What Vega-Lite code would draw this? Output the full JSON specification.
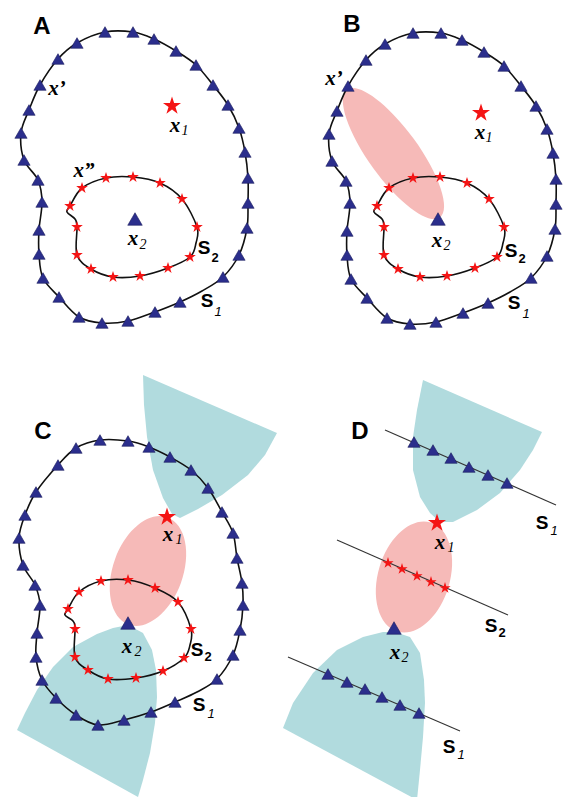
{
  "$schema": "https://vega.github.io/schema/vega-lite/v6.json",
  "width": 565,
  "height": 797,
  "padding": 0,
  "autosize": {"type": "fit", "contains": "padding"},
  "background": "white",
  "config": {"view": {"stroke": null}},
  "datasets": {
    "s1": [
      {"p":"A","o":1,"x":105,"y":32,"m":1},{"p":"A","o":2,"x":133,"y":32,"m":1},{"p":"A","o":3,"x":154,"y":39,"m":1},{"p":"A","o":4,"x":176,"y":51,"m":1},{"p":"A","o":5,"x":196,"y":65,"m":1},{"p":"A","o":6,"x":213,"y":85,"m":1},{"p":"A","o":7,"x":228,"y":105,"m":1},{"p":"A","o":8,"x":239,"y":128,"m":1},{"p":"A","o":9,"x":245,"y":152,"m":1},{"p":"A","o":10,"x":248,"y":178,"m":1},{"p":"A","o":11,"x":248,"y":203,"m":1},{"p":"A","o":12,"x":247,"y":228,"m":1},{"p":"A","o":13,"x":239,"y":255,"m":1},{"p":"A","o":14,"x":223,"y":277,"m":1},{"p":"A","o":15,"x":202,"y":291,"m":0},{"p":"A","o":16,"x":180,"y":302,"m":1},{"p":"A","o":17,"x":155,"y":312,"m":1},{"p":"A","o":18,"x":128,"y":321,"m":1},{"p":"A","o":19,"x":102,"y":323,"m":1},{"p":"A","o":20,"x":79,"y":317,"m":1},{"p":"A","o":21,"x":59,"y":297,"m":1},{"p":"A","o":22,"x":43,"y":278,"m":1},{"p":"A","o":23,"x":39,"y":254,"m":1},{"p":"A","o":24,"x":39,"y":230,"m":1},{"p":"A","o":25,"x":42,"y":202,"m":1},{"p":"A","o":26,"x":38,"y":180,"m":1},{"p":"A","o":27,"x":24,"y":160,"m":1},{"p":"A","o":29,"x":21,"y":133,"m":1},{"p":"A","o":30,"x":29,"y":110,"m":1},{"p":"A","o":31,"x":40,"y":85,"m":1},{"p":"A","o":32,"x":58,"y":59,"m":1},{"p":"A","o":33,"x":77,"y":43,"m":1},
      {"p":"B","o":1,"x":413,"y":33,"m":1},{"p":"B","o":2,"x":441,"y":33,"m":1},{"p":"B","o":3,"x":462,"y":40,"m":1},{"p":"B","o":4,"x":484,"y":52,"m":1},{"p":"B","o":5,"x":504,"y":66,"m":1},{"p":"B","o":6,"x":521,"y":86,"m":1},{"p":"B","o":7,"x":536,"y":106,"m":1},{"p":"B","o":8,"x":547,"y":129,"m":1},{"p":"B","o":9,"x":553,"y":153,"m":1},{"p":"B","o":10,"x":556,"y":179,"m":1},{"p":"B","o":11,"x":556,"y":204,"m":1},{"p":"B","o":12,"x":555,"y":229,"m":1},{"p":"B","o":13,"x":547,"y":256,"m":1},{"p":"B","o":14,"x":531,"y":278,"m":1},{"p":"B","o":15,"x":510,"y":292,"m":0},{"p":"B","o":16,"x":488,"y":303,"m":1},{"p":"B","o":17,"x":463,"y":313,"m":1},{"p":"B","o":18,"x":436,"y":322,"m":1},{"p":"B","o":19,"x":410,"y":324,"m":1},{"p":"B","o":20,"x":387,"y":318,"m":1},{"p":"B","o":21,"x":367,"y":298,"m":1},{"p":"B","o":22,"x":351,"y":279,"m":1},{"p":"B","o":23,"x":347,"y":255,"m":1},{"p":"B","o":24,"x":347,"y":231,"m":1},{"p":"B","o":25,"x":350,"y":203,"m":1},{"p":"B","o":26,"x":346,"y":181,"m":1},{"p":"B","o":27,"x":332,"y":161,"m":1},{"p":"B","o":29,"x":329,"y":134,"m":1},{"p":"B","o":30,"x":337,"y":111,"m":1},{"p":"B","o":31,"x":348,"y":86,"m":1},{"p":"B","o":32,"x":366,"y":60,"m":1},{"p":"B","o":33,"x":385,"y":44,"m":1},
      {"p":"C","o":1,"x":100,"y":440,"m":1},{"p":"C","o":2,"x":128,"y":441,"m":1},{"p":"C","o":3,"x":149,"y":447,"m":1},{"p":"C","o":4,"x":170,"y":457,"m":1},{"p":"C","o":5,"x":191,"y":470,"m":1},{"p":"C","o":6,"x":208,"y":488,"m":1},{"p":"C","o":7,"x":222,"y":512,"m":1},{"p":"C","o":8,"x":233,"y":533,"m":1},{"p":"C","o":9,"x":237,"y":558,"m":1},{"p":"C","o":10,"x":242,"y":583,"m":1},{"p":"C","o":11,"x":243,"y":605,"m":1},{"p":"C","o":12,"x":240,"y":630,"m":1},{"p":"C","o":13,"x":233,"y":655,"m":1},{"p":"C","o":14,"x":217,"y":679,"m":1},{"p":"C","o":15,"x":197,"y":692,"m":0},{"p":"C","o":16,"x":175,"y":702,"m":1},{"p":"C","o":17,"x":151,"y":712,"m":1},{"p":"C","o":18,"x":124,"y":720,"m":1},{"p":"C","o":19,"x":98,"y":725,"m":1},{"p":"C","o":20,"x":76,"y":715,"m":1},{"p":"C","o":21,"x":56,"y":698,"m":1},{"p":"C","o":22,"x":42,"y":680,"m":1},{"p":"C","o":23,"x":36,"y":657,"m":1},{"p":"C","o":24,"x":37,"y":633,"m":1},{"p":"C","o":25,"x":40,"y":605,"m":1},{"p":"C","o":26,"x":35,"y":585,"m":1},{"p":"C","o":27,"x":23,"y":565,"m":1},{"p":"C","o":29,"x":19,"y":538,"m":1},{"p":"C","o":30,"x":25,"y":515,"m":1},{"p":"C","o":31,"x":36,"y":492,"m":1},{"p":"C","o":32,"x":58,"y":465,"m":1},{"p":"C","o":33,"x":76,"y":448,"m":1}
    ],
    "s2": [
      {"p":"A","o":1,"x":82,"y":188,"m":1},{"p":"A","o":2,"x":106,"y":178,"m":1},{"p":"A","o":3,"x":133,"y":177,"m":1},{"p":"A","o":4,"x":160,"y":183,"m":1},{"p":"A","o":5,"x":182,"y":199,"m":1},{"p":"A","o":6,"x":197,"y":227,"m":1},{"p":"A","o":7,"x":196,"y":243,"m":0},{"p":"A","o":8,"x":190,"y":257,"m":1},{"p":"A","o":9,"x":168,"y":268,"m":1},{"p":"A","o":10,"x":140,"y":276,"m":1},{"p":"A","o":11,"x":113,"y":277,"m":1},{"p":"A","o":12,"x":91,"y":269,"m":1},{"p":"A","o":13,"x":77,"y":255,"m":1},{"p":"A","o":14,"x":77,"y":227,"m":1},{"p":"A","o":15,"x":75,"y":219,"m":0},{"p":"A","o":16,"x":67,"y":212,"m":0},{"p":"A","o":17,"x":70,"y":206,"m":1},
      {"p":"B","o":1,"x":389,"y":188,"m":1},{"p":"B","o":2,"x":413,"y":178,"m":1},{"p":"B","o":3,"x":440,"y":177,"m":1},{"p":"B","o":4,"x":467,"y":183,"m":1},{"p":"B","o":5,"x":489,"y":199,"m":1},{"p":"B","o":6,"x":504,"y":227,"m":1},{"p":"B","o":7,"x":503,"y":243,"m":0},{"p":"B","o":8,"x":497,"y":257,"m":1},{"p":"B","o":9,"x":475,"y":268,"m":1},{"p":"B","o":10,"x":447,"y":276,"m":1},{"p":"B","o":11,"x":420,"y":277,"m":1},{"p":"B","o":12,"x":398,"y":269,"m":1},{"p":"B","o":13,"x":384,"y":255,"m":1},{"p":"B","o":14,"x":384,"y":227,"m":1},{"p":"B","o":15,"x":382,"y":219,"m":0},{"p":"B","o":16,"x":374,"y":212,"m":0},{"p":"B","o":17,"x":377,"y":206,"m":1},
      {"p":"C","o":1,"x":79,"y":592,"m":1},{"p":"C","o":2,"x":101,"y":581,"m":1},{"p":"C","o":3,"x":128,"y":580,"m":1},{"p":"C","o":4,"x":155,"y":588,"m":1},{"p":"C","o":5,"x":178,"y":602,"m":1},{"p":"C","o":6,"x":191,"y":629,"m":1},{"p":"C","o":7,"x":190,"y":645,"m":0},{"p":"C","o":8,"x":184,"y":658,"m":1},{"p":"C","o":9,"x":163,"y":671,"m":1},{"p":"C","o":10,"x":136,"y":678,"m":1},{"p":"C","o":11,"x":108,"y":679,"m":1},{"p":"C","o":12,"x":88,"y":670,"m":1},{"p":"C","o":13,"x":75,"y":657,"m":1},{"p":"C","o":14,"x":75,"y":629,"m":1},{"p":"C","o":15,"x":73,"y":621,"m":0},{"p":"C","o":16,"x":65,"y":615,"m":0},{"p":"C","o":17,"x":68,"y":609,"m":1}
    ],
    "dl": [
      {"id":"top","x":385,"y":430,"x2":556,"y2":505},
      {"id":"mid","x":337,"y":540,"x2":508,"y2":615},
      {"id":"bot","x":288,"y":657,"x2":460,"y2":731}
    ],
    "pts": [
      {"k":"tri","x":414,"y":442},{"k":"tri","x":433,"y":450},{"k":"tri","x":451,"y":458},{"k":"tri","x":469,"y":467},{"k":"tri","x":488,"y":475},{"k":"tri","x":507,"y":483},
      {"k":"tri","x":328,"y":674},{"k":"tri","x":347,"y":682},{"k":"tri","x":365,"y":689},{"k":"tri","x":382,"y":697},{"k":"tri","x":400,"y":705},{"k":"tri","x":419,"y":713},
      {"k":"star","x":388,"y":563},{"k":"star","x":402,"y":569},{"k":"star","x":417,"y":576},{"k":"star","x":431,"y":582},{"k":"star","x":445,"y":588},
      {"k":"bigstar","x":172,"y":106},{"k":"bigstar","x":481,"y":113},{"k":"bigstar","x":167,"y":517},{"k":"bigstar","x":437,"y":523},
      {"k":"bigtri","x":135,"y":219},{"k":"bigtri","x":438,"y":219},{"k":"bigtri","x":128,"y":623},{"k":"bigtri","x":394,"y":628}
    ],
    "cyan": [
      {"id":"CT","o":1,"x":143,"y":375},{"id":"CT","o":2,"x":144,"y":405},{"id":"CT","o":3,"x":147,"y":437},{"id":"CT","o":4,"x":153,"y":470},{"id":"CT","o":5,"x":163,"y":498},{"id":"CT","o":6,"x":172,"y":514},{"id":"CT","o":7,"x":180,"y":518},{"id":"CT","o":8,"x":198,"y":509},{"id":"CT","o":9,"x":222,"y":495},{"id":"CT","o":10,"x":248,"y":475},{"id":"CT","o":11,"x":265,"y":455},{"id":"CT","o":12,"x":277,"y":433},
      {"id":"CB","o":1,"x":128,"y":625},{"id":"CB","o":2,"x":143,"y":633},{"id":"CB","o":3,"x":152,"y":650},{"id":"CB","o":4,"x":156,"y":670},{"id":"CB","o":5,"x":157,"y":697},{"id":"CB","o":6,"x":155,"y":723},{"id":"CB","o":7,"x":150,"y":753},{"id":"CB","o":8,"x":143,"y":780},{"id":"CB","o":9,"x":138,"y":797},{"id":"CB","o":10,"x":17,"y":730},{"id":"CB","o":11,"x":25,"y":713},{"id":"CB","o":12,"x":37,"y":690},{"id":"CB","o":13,"x":53,"y":667},{"id":"CB","o":14,"x":73,"y":647},{"id":"CB","o":15,"x":97,"y":634},{"id":"CB","o":16,"x":113,"y":628},
      {"id":"DT","o":1,"x":423,"y":380},{"id":"DT","o":2,"x":417,"y":410},{"id":"DT","o":3,"x":413,"y":437},{"id":"DT","o":4,"x":413,"y":470},{"id":"DT","o":5,"x":420,"y":497},{"id":"DT","o":6,"x":430,"y":513},{"id":"DT","o":7,"x":440,"y":522},{"id":"DT","o":8,"x":453,"y":522},{"id":"DT","o":9,"x":477,"y":510},{"id":"DT","o":10,"x":500,"y":493},{"id":"DT","o":11,"x":520,"y":470},{"id":"DT","o":12,"x":533,"y":450},{"id":"DT","o":13,"x":542,"y":432},
      {"id":"DB","o":1,"x":395,"y":632},{"id":"DB","o":2,"x":410,"y":637},{"id":"DB","o":3,"x":420,"y":653},{"id":"DB","o":4,"x":424,"y":680},{"id":"DB","o":5,"x":425,"y":703},{"id":"DB","o":6,"x":423,"y":737},{"id":"DB","o":7,"x":420,"y":770},{"id":"DB","o":8,"x":417,"y":800},{"id":"DB","o":9,"x":283,"y":728},{"id":"DB","o":10,"x":293,"y":703},{"id":"DB","o":11,"x":313,"y":673},{"id":"DB","o":12,"x":337,"y":650},{"id":"DB","o":13,"x":363,"y":637},{"id":"DB","o":14,"x":383,"y":632}
    ],
    "pink": [
      {"id":"B","x":393.5,"y":153.5},
      {"id":"C","x":148,"y":571},
      {"id":"D","x":414,"y":577}
    ],
    "labels": [
      {"t":"A","k":"panel","x":42,"y":27},{"t":"B","k":"panel","x":352,"y":25},{"t":"C","k":"panel","x":43,"y":432},{"t":"D","k":"panel","x":360,"y":432},
      {"t":"x’","k":"x","x":57,"y":89},{"t":"x”","k":"x","x":84,"y":171},{"t":"x","k":"x","x":175,"y":126},{"t":"x","k":"x","x":133,"y":239},
      {"t":"x’","k":"x","x":334,"y":79},{"t":"x","k":"x","x":480,"y":133},{"t":"x","k":"x","x":437,"y":241},
      {"t":"x","k":"x","x":168,"y":535},{"t":"x","k":"x","x":127,"y":647},
      {"t":"x","k":"x","x":440,"y":543},{"t":"x","k":"x","x":395,"y":653},
      {"t":"1","k":"xs","x":185,"y":131},{"t":"2","k":"xs","x":143,"y":245},
      {"t":"1","k":"xs","x":489,"y":138},{"t":"2","k":"xs","x":447,"y":246},
      {"t":"1","k":"xs","x":179,"y":540},{"t":"2","k":"xs","x":138,"y":652},
      {"t":"1","k":"xs","x":451,"y":548},{"t":"2","k":"xs","x":405,"y":658},
      {"t":"S","k":"S","x":204,"y":248},{"t":"S","k":"S","x":207,"y":301},
      {"t":"S","k":"S","x":511,"y":251},{"t":"S","k":"S","x":514,"y":303},
      {"t":"S","k":"S","x":197,"y":650},{"t":"S","k":"S","x":199,"y":705},
      {"t":"S","k":"S","x":542,"y":523},{"t":"S","k":"S","x":491,"y":626},{"t":"S","k":"S","x":449,"y":747},
      {"t":"2","k":"s2","x":215,"y":258},{"t":"2","k":"s2","x":522,"y":259},{"t":"2","k":"s2","x":208,"y":657},{"t":"2","k":"s2","x":502,"y":633},
      {"t":"1","k":"s1","x":218,"y":312},{"t":"1","k":"s1","x":526,"y":314},{"t":"1","k":"s1","x":211,"y":714},{"t":"1","k":"s1","x":554,"y":531},{"t":"1","k":"s1","x":461,"y":755}
    ]
  },
  "encoding": {
    "x": {"field": "x", "type": "quantitative", "scale": {"domain": [0, 565], "nice": false, "zero": false}, "axis": null},
    "y": {"field": "y", "type": "quantitative", "scale": {"domain": [0, 797], "nice": false, "zero": false, "reverse": true}, "axis": null}
  },
  "layer": [
    {
      "data": {"name": "cyan"},
      "mark": {"type": "line", "interpolate": "linear-closed", "filled": true, "color": "#B1DBDE", "strokeWidth": 0, "clip": true},
      "encoding": {"detail": {"field": "id"}, "order": {"field": "o", "type": "quantitative"}}
    },
    {
      "data": {"name": "pink"},
      "transform": [{"filter": "datum.id === 'B'"}],
      "mark": {"type": "point", "filled": true, "opacity": 1, "color": "#F6BAB8", "strokeWidth": 0, "size": 24964, "angle": -36, "shape": "M0,-1A0.316,1 0 1,1 0,1A0.316,1 0 1,1 0,-1Z"},
      "encoding": {}
    },
    {
      "data": {"name": "pink"},
      "transform": [{"filter": "datum.id === 'C'"}],
      "mark": {"type": "point", "filled": true, "opacity": 1, "color": "#F6BAB8", "strokeWidth": 0, "size": 12996, "angle": 20, "shape": "M0,-1A0.614,1 0 1,1 0,1A0.614,1 0 1,1 0,-1Z"},
      "encoding": {}
    },
    {
      "data": {"name": "pink"},
      "transform": [{"filter": "datum.id === 'D'"}],
      "mark": {"type": "point", "filled": true, "opacity": 1, "color": "#F6BAB8", "strokeWidth": 0, "size": 12996, "angle": 17, "shape": "M0,-1A0.63,1 0 1,1 0,1A0.63,1 0 1,1 0,-1Z"},
      "encoding": {}
    },
    {
      "data": {"name": "s1"},
      "mark": {"type": "line", "interpolate": "cardinal-closed", "color": "#111111", "strokeWidth": 1.6},
      "encoding": {"detail": {"field": "p"}, "order": {"field": "o", "type": "quantitative"}}
    },
    {
      "data": {"name": "s2"},
      "mark": {"type": "line", "interpolate": "cardinal-closed", "color": "#111111", "strokeWidth": 1.6},
      "encoding": {"detail": {"field": "p"}, "order": {"field": "o", "type": "quantitative"}}
    },
    {
      "data": {"name": "dl"},
      "mark": {"type": "rule", "color": "#333333", "strokeWidth": 1.1},
      "encoding": {"x2": {"field": "x2"}, "y2": {"field": "y2"}}
    },
    {
      "data": {"name": "s1"},
      "transform": [{"filter": "datum.m === 1"}],
      "mark": {"type": "point", "shape": "triangle-up", "filled": true, "opacity": 1, "color": "#2B2E8C", "stroke": "#1B1D5E", "strokeWidth": 0.6, "size": 150},
      "encoding": {}
    },
    {
      "data": {"name": "s2"},
      "transform": [{"filter": "datum.m === 1"}],
      "mark": {"type": "point", "shape": "M0,-1L0.224,-0.309L0.951,-0.309L0.363,0.118L0.588,0.809L0,0.382L-0.588,0.809L-0.363,0.118L-0.951,-0.309L-0.224,-0.309Z", "filled": true, "opacity": 1, "color": "#F41414", "strokeWidth": 0, "size": 150},
      "encoding": {}
    },
    {
      "data": {"name": "pts"},
      "transform": [{"filter": "datum.k === 'tri'"}],
      "mark": {"type": "point", "shape": "triangle-up", "filled": true, "opacity": 1, "color": "#2B2E8C", "stroke": "#1B1D5E", "strokeWidth": 0.6, "size": 150},
      "encoding": {}
    },
    {
      "data": {"name": "pts"},
      "transform": [{"filter": "datum.k === 'star'"}],
      "mark": {"type": "point", "shape": "M0,-1L0.224,-0.309L0.951,-0.309L0.363,0.118L0.588,0.809L0,0.382L-0.588,0.809L-0.363,0.118L-0.951,-0.309L-0.224,-0.309Z", "filled": true, "opacity": 1, "color": "#F41414", "strokeWidth": 0, "size": 140},
      "encoding": {}
    },
    {
      "data": {"name": "pts"},
      "transform": [{"filter": "datum.k === 'bigtri'"}],
      "mark": {"type": "point", "shape": "triangle-up", "filled": true, "opacity": 1, "color": "#2B2E8C", "stroke": "#1B1D5E", "strokeWidth": 0.6, "size": 210},
      "encoding": {}
    },
    {
      "data": {"name": "pts"},
      "transform": [{"filter": "datum.k === 'bigstar'"}],
      "mark": {"type": "point", "shape": "M0,-1L0.224,-0.309L0.951,-0.309L0.363,0.118L0.588,0.809L0,0.382L-0.588,0.809L-0.363,0.118L-0.951,-0.309L-0.224,-0.309Z", "filled": true, "opacity": 1, "color": "#F41414", "strokeWidth": 0, "size": 360},
      "encoding": {}
    },
    {
      "data": {"name": "labels"},
      "transform": [{"filter": "datum.k === 'panel'"}],
      "mark": {"type": "text", "font": "Liberation Sans", "fontSize": 24, "fontWeight": "bold", "color": "#000000", "align": "center", "baseline": "middle"},
      "encoding": {"text": {"field": "t"}}
    },
    {
      "data": {"name": "labels"},
      "transform": [{"filter": "datum.k === 'x'"}],
      "mark": {"type": "text", "font": "Liberation Serif", "fontSize": 21, "fontWeight": "bold", "fontStyle": "italic", "color": "#000000", "align": "center", "baseline": "middle"},
      "encoding": {"text": {"field": "t"}}
    },
    {
      "data": {"name": "labels"},
      "transform": [{"filter": "datum.k === 'xs'"}],
      "mark": {"type": "text", "font": "Liberation Serif", "fontSize": 14, "fontStyle": "italic", "color": "#000000", "align": "center", "baseline": "middle"},
      "encoding": {"text": {"field": "t"}}
    },
    {
      "data": {"name": "labels"},
      "transform": [{"filter": "datum.k === 'S'"}],
      "mark": {"type": "text", "font": "Liberation Sans", "fontSize": 19, "fontWeight": "bold", "color": "#000000", "align": "center", "baseline": "middle"},
      "encoding": {"text": {"field": "t"}}
    },
    {
      "data": {"name": "labels"},
      "transform": [{"filter": "datum.k === 's2'"}],
      "mark": {"type": "text", "font": "Liberation Sans", "fontSize": 13, "fontWeight": "bold", "color": "#000000", "align": "center", "baseline": "middle"},
      "encoding": {"text": {"field": "t"}}
    },
    {
      "data": {"name": "labels"},
      "transform": [{"filter": "datum.k === 's1'"}],
      "mark": {"type": "text", "font": "Liberation Sans", "fontSize": 13, "fontStyle": "italic", "color": "#000000", "align": "center", "baseline": "middle"},
      "encoding": {"text": {"field": "t"}}
    }
  ]
}
